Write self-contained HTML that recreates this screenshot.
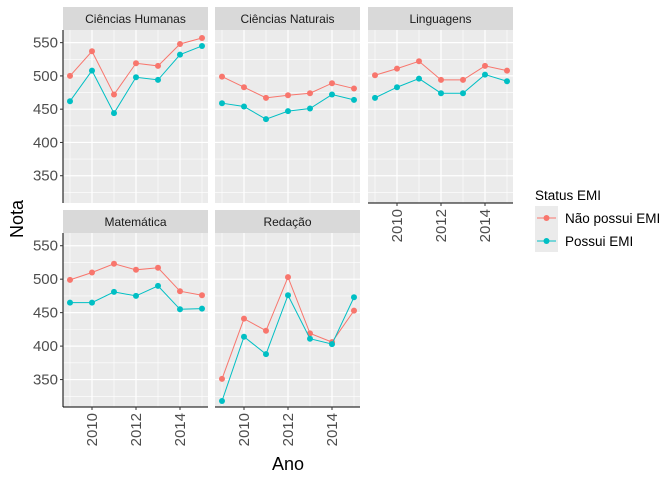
<!DOCTYPE html>
<html><head><meta charset="utf-8"><style>
body{margin:0;background:#fff;}
svg{font-family:"Liberation Sans",sans-serif;}
</style></head><body>
<svg id="c" width="672" height="480" xmlns="http://www.w3.org/2000/svg"></svg>
<script>
const years=[2009,2010,2011,2012,2013,2014,2015];
const panels=["Ciências Humanas","Ciências Naturais","Linguagens","Matemática","Redação"];
const naoPossui=[
[500,537,472,519,515,548,557],
[499,483,467,471,474,489,481],
[501,511,522,494,494,515,508],
[499,510,523,514,517,482,476],
[351,441,423,503,419,406,453]];
const possui=[
[462,508,444,498,494,532,545],
[459,454,435,447,451,472,464],
[467,483,496,474,474,502,492],
[465,465,481,475,490,455,456],
[318,414,388,476,411,403,473]];
const yTicks=[350,400,450,500,550];
const xTicks=[2010,2012,2014];
const seriesNames=["Não possui EMI","Possui EMI"];
const colors=["#F8766D","#00BFC4"];

const svg=document.getElementById('c');
const NS="http://www.w3.org/2000/svg";
function mk(t,a,p){const e=document.createElementNS(NS,t);for(const k in a)e.setAttribute(k,a[k]);(p||svg).appendChild(e);return e;}
const colX=[63,215,368], PW=145;
const rowY=[30,233], PH=[173,174];
const yMin=309, yMax=569;
function sx(c,yr){return colX[c]+7+(yr-2009)*22;}
function sy(r,v){return rowY[r]+PH[r]*(yMax-v)/(yMax-yMin);}
panels.forEach((name,i)=>{
  const r=Math.floor(i/3), c=i%3;
  const g=mk('g',{});
  
  
  const st=mk('rect',{x:colX[c],y:rowY[r]-23,width:PW,height:23,fill:'#D9D9D9'},g);
  
  const stt=mk('text',{x:colX[c]+PW/2,y:rowY[r]-7,'text-anchor':'middle','font-size':12,fill:'#1A1A1A'},g);stt.textContent=name;
  
  const bg=mk('rect',{x:colX[c],y:rowY[r],width:PW,height:PH[r],fill:'#EBEBEB'},g);
  
  for(let v=325;v<yMax;v+=50){const yy=sy(r,v);mk('line',{x1:colX[c],x2:colX[c]+PW,y1:yy,y2:yy,stroke:'#fff','stroke-width':0.6},g);}
  yTicks.forEach(v=>{const yy=sy(r,v);mk('line',{x1:colX[c],x2:colX[c]+PW,y1:yy,y2:yy,stroke:'#fff','stroke-width':1.2},g);});
  years.forEach(yr=>{const xx=sx(c,yr);mk('line',{x1:xx,x2:xx,y1:rowY[r],y2:rowY[r]+PH[r],stroke:'#fff','stroke-width':xTicks.includes(yr)?1.2:0.6},g);});
  [naoPossui[i],possui[i]].forEach((d,s)=>{
    const pts=d.map((v,j)=>sx(c,years[j])+','+sy(r,v)).join(' ');
    const pl=mk('polyline',{points:pts,fill:'none',stroke:colors[s],'stroke-width':1},g);
    
    d.forEach((v,j)=>{const p=mk('circle',{cx:sx(c,years[j]),cy:sy(r,v),r:3,fill:colors[s]},g);
      });
  });
  if(c===0){
    mk('line',{x1:colX[c],x2:colX[c],y1:rowY[r],y2:rowY[r]+PH[r],stroke:'#000','stroke-width':1},g);
    yTicks.forEach(v=>{const yy=sy(r,v);mk('line',{x1:colX[c]-3,x2:colX[c],y1:yy,y2:yy,stroke:'#333'},g);
      const t=mk('text',{x:colX[c]-5,y:yy+5,'text-anchor':'end','font-size':15,fill:'#4D4D4D'},g);t.textContent=v;
      });
  }
  if(r===1||c===2){
    const by=rowY[r]+PH[r];
    mk('line',{x1:colX[c],x2:colX[c]+PW,y1:by,y2:by,stroke:'#000','stroke-width':1},g);
    xTicks.forEach(yr=>{const xx=sx(c,yr);mk('line',{x1:xx,x2:xx,y1:by,y2:by+3,stroke:'#333'},g);
      const t=mk('text',{x:0,y:0,'text-anchor':'end','font-size':15,fill:'#4D4D4D',transform:`translate(${xx+5},${by+6}) rotate(-90)`},g);t.textContent=yr;
      });
  }
});
let t=mk('text',{x:0,y:0,'text-anchor':'middle','font-size':18,fill:'#000',transform:'translate(23,219) rotate(-90)'});t.textContent='Nota';

t=mk('text',{x:288,y:470,'text-anchor':'middle','font-size':18,fill:'#000'});t.textContent='Ano';

const lg=mk('g',{});
t=mk('text',{x:535,y:200,'font-size':13.5,fill:'#000'},lg);t.textContent='Status EMI';

mk('rect',{x:535,y:206,width:23,height:46,fill:'#EBEBEB'},lg);
seriesNames.forEach((n,s)=>{
  const yy=218+s*23;
  const e=mk('g',{},lg);
  mk('line',{x1:537,x2:556,y1:yy,y2:yy,stroke:colors[s],'stroke-width':1},e);
  mk('circle',{cx:546.5,cy:yy,r:3,fill:colors[s]},e);
  const tt=mk('text',{x:565,y:yy+5,'font-size':13.5,fill:'#000'},e);tt.textContent=n;
});
</script>
</body></html>
